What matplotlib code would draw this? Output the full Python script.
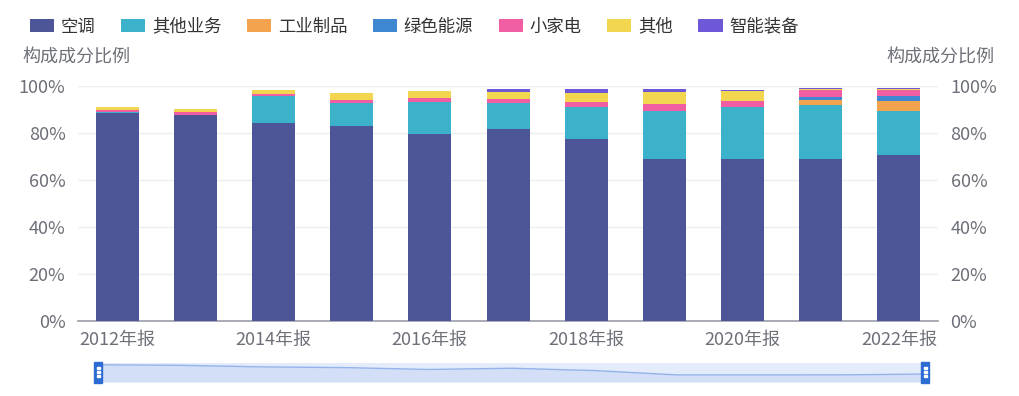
import numpy as np
import matplotlib.pyplot as plt

plt.rcParams['font.family'] = ['Noto Sans CJK SC', 'DejaVu Sans']

years = ['2012年报', '2013年报', '2014年报', '2015年报', '2016年报', '2017年报',
         '2018年报', '2019年报', '2020年报', '2021年报', '2022年报']
names = ['空调', '其他业务', '工业制品', '绿色能源', '小家电', '其他', '智能装备']
colors = ['#4b5597', '#3bb2c9', '#f3a24e', '#3f87d0', '#f15fa2', '#f3d650', '#6e58d8']

kongtiao = [88.5, 87.5, 84.4, 83.0, 79.4, 81.8, 77.3, 68.8, 68.8, 68.9, 70.5]
qita_yewu = [0.3, 0.3, 11.4, 9.8, 13.9, 10.9, 13.9, 20.6, 22.1, 23.1, 18.9]
gongye = [0, 0, 0, 0, 0, 0, 0, 0, 0, 2.1, 4.3]
lvse = [0, 0, 0, 0, 0, 0, 0, 0, 0, 1.3, 2.1]
xiaojiadian = [1.2, 1.3, 0.8, 1.4, 1.6, 1.8, 2.0, 3.0, 2.7, 3.0, 2.6]
qita = [1.0, 1.0, 1.7, 2.7, 3.1, 2.8, 4.0, 5.1, 4.3, 0.4, 0.4]
zhineng = [0, 0, 0, 0, 0, 1.3, 1.6, 1.1, 0.4, 0.3, 0.3]
series = [kongtiao, qita_yewu, gongye, lvse, xiaojiadian, qita, zhineng]

fig = plt.figure(figsize=(10.19, 3.96), dpi=100)
ax = fig.add_axes([78 / 1019, 75 / 396, 860 / 1019, 235 / 396])

x = np.arange(len(years))
bottom = np.zeros(len(years))
for name, vals, c in zip(names, series, colors):
    ax.bar(x, vals, 0.55, bottom=bottom, color=c, label=name, zorder=3)
    bottom += np.array(vals)

ax.set_xlim(-0.5, len(years) - 0.5)
ax.set_ylim(0, 100)
yt = [0, 20, 40, 60, 80, 100]
ax.set_yticks(yt)
ax.set_yticklabels([f'{v}%' for v in yt])
ax.grid(axis='y', color='#eeeeee', lw=1, zorder=0)
ax.set_xticks(x[::2])
ax.set_xticklabels(years[::2])
for s in ['top', 'right', 'left']:
    ax.spines[s].set_visible(False)
ax.spines['bottom'].set_color('#9a9ca8')
ax.spines['bottom'].set_linewidth(1.2)
ax.tick_params(axis='x', length=0, labelsize=13, colors='#6e7079', pad=7)
ax.tick_params(axis='y', length=0, labelsize=13, colors='#6e7079', pad=9)

ax2 = ax.twinx()
ax2.set_ylim(0, 100)
ax2.set_yticks(yt)
ax2.set_yticklabels([f'{v}%' for v in yt])
for s in ax2.spines.values():
    s.set_visible(False)
ax2.tick_params(axis='y', length=0, labelsize=13, colors='#6e7079', pad=9)

fig.text(22 / 1019, 1 - 58 / 396, '构成成分比例', fontsize=13, color='#6e7079', va='center', ha='left')
fig.text(994 / 1019, 1 - 58 / 396, '构成成分比例', fontsize=13, color='#6e7079', va='center', ha='right')

handles, labels = ax.get_legend_handles_labels()
fig.legend(handles, labels, loc='upper left', bbox_to_anchor=(14 / 1019, 1 - 2 / 396),
           ncol=7, frameon=False, fontsize=12.5, handlelength=1.4, handleheight=0.7,
           handletextpad=0.4, columnspacing=1.45, labelcolor='#333333')

# data zoom slider
sx = fig.add_axes([98 / 1019, 1 - 382 / 396, 827 / 1019, 19 / 396])
sx.set_xlim(0, len(years) - 1)
sx.set_ylim(55, 92)
sx.set_facecolor('#e4ecfb')
sx.fill_between(x, kongtiao, 55, color='#d3dff7', lw=0)
sx.plot(x, kongtiao, color='#94b3eb', lw=1)
for s in sx.spines.values():
    s.set_visible(False)
sx.set_xticks([])
sx.set_yticks([])
for hx in [94, 921]:
    fig.patches.append(plt.Rectangle((hx / 1019, 1 - 383 / 396), 8 / 1019, 21 / 396,
                                     transform=fig.transFigure, color='#2c6cd3', zorder=5))
    for dy in [-4, 0, 4]:
        fig.patches.append(plt.Rectangle(((hx + 2.5) / 1019, 1 - (372.5 + dy) / 396), 3 / 1019, 1.5 / 396,
                                         transform=fig.transFigure, color='white', zorder=6))

fig.savefig('out.png', dpi=100)
